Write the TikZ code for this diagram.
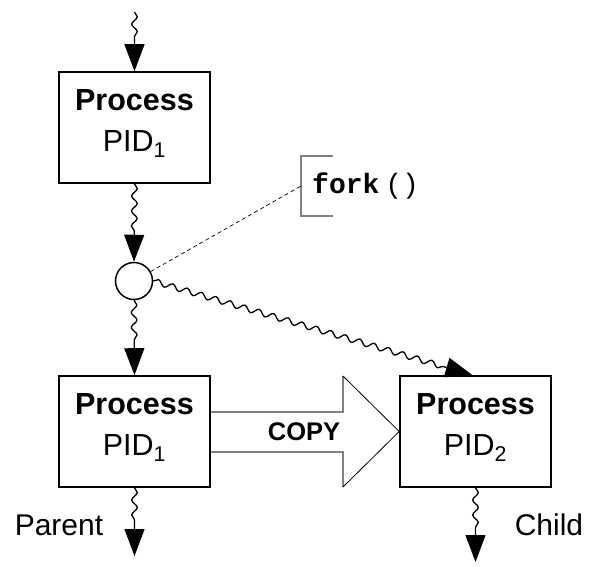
\documentclass[tikz,border=0pt]{standalone}
\usepackage{fontspec}
\setmainfont{Liberation Sans}
\setmonofont{Liberation Mono}
\usetikzlibrary{arrows.meta,decorations.pathmorphing}
\begin{document}
\begin{tikzpicture}[x=1pt,y=-1pt,>={Triangle[length=27pt,width=20pt]},
    proc/.style={draw,line width=1.6pt,minimum width=151pt,minimum height=111pt,inner sep=0pt},
    ptext/.style={align=center,inner sep=0pt,font=\fontsize{30.5}{41}\selectfont},
    wave/.style={->,line width=1.3pt,decorate,decoration={snake,amplitude=2.8pt,segment length=15pt,post length=30pt}},
    grayline/.style={draw=black!50,line width=1.5pt}]
    \useasboundingbox (0,0) rectangle (597,566);
    \coordinate (in) at (134.5,12);
    \node[proc] (p1) at (134.5,127.5) {};
    \node[ptext] (p1t) at (134.5,123.5) {\textbf{Process}\\PID\textsubscript{1}};
    \node[circle,draw,line width=1.5pt,minimum size=37pt,inner sep=0pt] (f) at (134,281) {};
    \node[proc] (p2) at (134.5,431.5) {};
    \node[ptext] (p2t) at (134.5,427.5) {\textbf{Process}\\PID\textsubscript{1}};
    \node[proc] (p3) at (475.5,431.5) {};
    \node[ptext] (p3t) at (475.5,427.5) {\textbf{Process}\\PID\textsubscript{2}};
    \coordinate (o1) at (134.5,556);
    \coordinate (o2) at (475.5,562);
    \draw[wave](in)--(p1.north);
    \draw[wave](p1.south)--(f.north);
    \draw[wave](f.south)--(p2.north);
    \draw[wave](f.east)--([xshift=-3pt]p3.north);
    \draw[wave](p2.south)--(o1);
    \draw[wave](p3.south)--(o2);
    \node[anchor=base,font=\fontsize{30}{36}\selectfont] (par) at (59,535) {Parent};
    \node[anchor=base,font=\fontsize{30}{36}\selectfont] (chl) at (549,535) {Child};
    \draw[grayline](p2.east|-0,412)--(343,412)--(343,376);
    \draw[grayline](p2.east|-0,452)--(343,452)--(343,487);
    \draw[line width=0.8pt](343,376)--(p3.west)--(343,487);
    \node[anchor=base,inner sep=0pt,font=\fontsize{25.5}{30}\selectfont\bfseries] (cp) at (304,440) {COPY};
    \coordinate (br) at (301,186);
    \draw[grayline](333,156)--(301,156)--(301,216)--(333,216);
    \draw[line width=0.7pt,dash pattern=on 4pt off 3pt](f)--(br);
    \node[anchor=base west,inner sep=0pt,font=\fontsize{28}{32}\selectfont\ttfamily] (call) at (312,193) {\textbf{fork}\hspace{6pt}()};
\end{tikzpicture}
\end{document}
